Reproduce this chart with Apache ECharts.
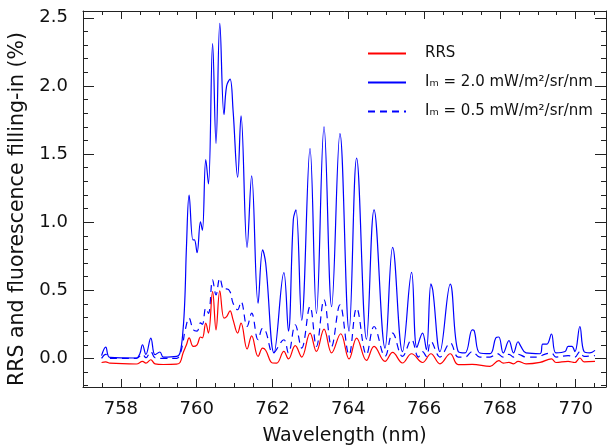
<!DOCTYPE html>
<html>
<head>
<meta charset="utf-8">
<script src="https://cdn.jsdelivr.net/npm/echarts/dist/echarts.min.js"></script>
<style>
html,body{margin:0;padding:0;background:#fff;}
#chart{width:607px;height:446px;}
</style>
</head>
<body>
<div id="chart"></div>
<script>
// ---------------- data ----------------
const seriesNames = ['RRS', 'Iₘ = 2.0 mW/m²/sr/nm', 'Iₘ = 0.5 mW/m²/sr/nm'];

const wlIm20 = [757.49, 757.60, 757.71, 758.41, 758.50, 758.57, 758.66, 758.79, 758.90, 759.03, 759.12, 759.47, 759.56, 759.64, 759.69, 759.73, 759.80, 759.90, 759.94, 760.01, 760.10, 760.15, 760.24, 760.31, 760.42, 760.51, 760.61, 760.72, 760.79, 760.88, 760.96, 761.08, 761.17, 761.33, 761.45, 761.62, 761.74, 761.82, 762.04, 762.30, 762.42, 762.55, 762.62, 762.77, 762.99, 763.16, 763.36, 763.56, 763.78, 764.02, 764.22, 764.48, 764.68, 764.97, 765.17, 765.43, 765.67, 765.81, 765.96, 766.06, 766.18, 766.23, 766.42, 766.69, 766.90, 767.08, 767.27, 767.32, 767.47, 767.74, 767.89, 767.97, 768.09, 768.24, 768.36, 768.48, 768.55, 768.69, 769.06, 769.13, 769.24, 769.36, 769.48, 769.72, 769.80, 769.90, 769.98, 770.11, 770.22, 770.37, 770.51];
const valIm20 = [0.02, 0.083, 0.007, 0.003, 0.034, 0.10, 0.03, 0.149, 0.027, 0.047, 0.01, 0.015, 0.04, 0.21, 0.454, 0.82, 1.198, 0.87, 0.87, 0.776, 1.003, 0.94, 1.46, 1.28, 2.31, 1.577, 2.46, 1.79, 2.0, 2.05, 1.82, 1.33, 1.78, 0.815, 1.34, 0.405, 0.796, 0.70, 0.04, 0.63, 0.20, 1.02, 1.09, 0.28, 1.54, 0.33, 1.70, 0.38, 1.65, 0.20, 1.47, 0.14, 1.09, 0.076, 0.815, 0.05, 0.632, 0.08, 0.186, 0.064, 0.547, 0.50, 0.05, 0.545, 0.05, 0.04, 0.21, 0.205, 0.04, 0.035, 0.149, 0.157, 0.04, 0.13, 0.04, 0.122, 0.09, 0.04, 0.034, 0.105, 0.105, 0.179, 0.04, 0.05, 0.088, 0.088, 0.05, 0.234, 0.05, 0.04, 0.059];

const wlIm05 = [757.49, 757.60, 757.71, 758.41, 758.57, 758.66, 758.79, 758.90, 759.12, 759.47, 759.56, 759.64, 759.69, 759.80, 759.91, 760.01, 760.10, 760.15, 760.24, 760.31, 760.42, 760.51, 760.61, 760.72, 760.79, 760.88, 760.96, 761.08, 761.17, 761.33, 761.45, 761.62, 761.74, 761.82, 762.02, 762.30, 762.42, 762.60, 762.77, 762.99, 763.16, 763.36, 763.56, 763.78, 764.02, 764.22, 764.48, 764.68, 764.97, 765.17, 765.43, 765.67, 765.85, 765.96, 766.06, 766.18, 766.42, 766.69, 766.90, 767.08, 767.27, 767.47, 767.74, 767.93, 768.09, 768.24, 768.36, 768.48, 768.69, 769.06, 769.13, 769.36, 769.48, 769.80, 769.98, 770.11, 770.22, 770.51];
const valIm05 = [0.0, 0.03, 0.0, 0.0, 0.03, 0.005, 0.05, 0.005, 0.0, 0.0, 0.03, 0.12, 0.2, 0.296, 0.21, 0.20, 0.26, 0.25, 0.369, 0.33, 0.576, 0.466, 0.589, 0.503, 0.51, 0.49, 0.405, 0.357, 0.417, 0.234, 0.332, 0.137, 0.222, 0.2, 0.04, 0.137, 0.04, 0.247, 0.076, 0.38, 0.088, 0.43, 0.088, 0.393, 0.027, 0.369, 0.027, 0.234, 0.015, 0.186, 0.015, 0.137, 0.01, 0.05, 0.015, 0.124, 0.01, 0.113, 0.01, 0.01, 0.05, 0.01, 0.01, 0.035, 0.01, 0.03, 0.01, 0.03, 0.01, 0.01, 0.025, 0.04, 0.01, 0.02, 0.01, 0.05, 0.015, 0.02];

const wlRRS = [757.49, 757.60, 757.71, 758.41, 758.57, 758.66, 758.79, 758.90, 759.12, 759.47, 759.56, 759.64, 759.73, 759.80, 759.91, 760.01, 760.10, 760.15, 760.24, 760.31, 760.42, 760.51, 760.61, 760.72, 760.79, 760.88, 760.96, 761.08, 761.17, 761.33, 761.45, 761.62, 761.74, 761.82, 762.00, 762.11, 762.30, 762.42, 762.60, 762.77, 762.99, 763.16, 763.36, 763.56, 763.80, 764.02, 764.22, 764.48, 764.68, 764.97, 765.17, 765.43, 765.67, 765.96, 766.18, 766.42, 766.69, 766.90, 767.27, 767.74, 767.97, 768.09, 768.24, 768.36, 768.48, 768.69, 769.06, 769.36, 769.48, 769.80, 769.98, 770.11, 770.22, 770.51];
const valRRS = [-0.03, -0.025, -0.035, -0.041, -0.022, -0.035, -0.01, -0.04, -0.045, -0.042, -0.03, 0.04, 0.1, 0.15, 0.088, 0.1, 0.157, 0.15, 0.259, 0.186, 0.49, 0.21, 0.496, 0.296, 0.307, 0.349, 0.283, 0.186, 0.259, 0.069, 0.166, 0.015, 0.076, 0.06, -0.034, -0.035, 0.051, -0.004, 0.093, 0.01, 0.186, 0.051, 0.215, 0.04, 0.181, -0.004, 0.149, -0.015, 0.088, -0.022, 0.044, -0.034, 0.034, -0.03, 0.034, -0.04, 0.034, -0.046, -0.044, -0.059, -0.017, -0.035, -0.029, -0.04, -0.022, -0.04, -0.029, -0.004, -0.03, -0.022, -0.03, 0.003, -0.025, -0.022];

const xMajorTicks = [758, 760, 762, 764, 766, 768, 770];
const xMinorTicks = [757, 757.5, 758.5, 759, 759.5, 760.5, 761, 761.5, 762.5, 763, 763.5, 764.5, 765, 765.5, 766.5, 767, 767.5, 768.5, 769, 769.5, 770.5];
const yMajorTicks = [0, 0.5, 1.0, 1.5, 2.0, 2.5];
const yMinorTicks = [-0.2, -0.1, 0.1, 0.2, 0.3, 0.4, 0.6, 0.7, 0.8, 0.9, 1.1, 1.2, 1.3, 1.4, 1.6, 1.7, 1.8, 1.9, 2.1, 2.2, 2.3, 2.4];

const X_MIN = 757, X_MAX = 770.8, Y_MIN = -0.21, Y_MAX = 2.55;

// ---------------- chart ----------------
const FONT = 'DejaVu Sans';
const AX = '#222';
const pairs = (w, v) => w.map((x, i) => [x, v[i]]);
const gridBox = { left: 83, right: 1, top: 11, bottom: 59, containLabel: false, outerBoundsMode: 'none' };

function xAx(gi, pos, ticks, len, main) {
  return {
    type: 'value', gridIndex: gi, position: pos, min: X_MIN, max: X_MAX,
    axisLine: { show: !!main, onZero: false, lineStyle: { color: AX, width: 1 } },
    axisTick: { show: true, inside: true, length: len, customValues: ticks, lineStyle: { color: AX, width: 1 } },
    axisLabel: (main && pos === 'bottom') ? {
      show: true, customValues: ticks, margin: 13, fontSize: 18, fontFamily: FONT, color: '#111',
      formatter: v => String(Math.round(v))
    } : { show: false },
    splitLine: { show: false },
    name: (main && pos === 'bottom') ? 'Wavelength (nm)' : '',
    nameLocation: 'middle', nameGap: 40,
    nameTextStyle: { fontSize: 19, fontFamily: FONT, color: '#111' }
  };
}
function yAx(gi, pos, ticks, len, main) {
  return {
    type: 'value', gridIndex: gi, position: pos, min: Y_MIN, max: Y_MAX,
    axisLine: { show: !!main, onZero: false, lineStyle: { color: AX, width: 1 } },
    axisTick: { show: true, inside: true, length: len, customValues: ticks, lineStyle: { color: AX, width: 1 } },
    axisLabel: (main && pos === 'left') ? {
      show: true, customValues: ticks, margin: 15, fontSize: 18, fontFamily: FONT, color: '#111',
      formatter: v => v.toFixed(1)
    } : { show: false },
    splitLine: { show: false },
    name: (main && pos === 'left') ? 'RRS and fluorescence filling-in (%)' : '',
    nameLocation: 'middle', nameGap: 52,
    nameTextStyle: { fontSize: 20.5, fontFamily: FONT, color: '#111', padding: [0, 20, 0, 0] }
  };
}

const chart = echarts.init(document.getElementById('chart'), null, { renderer: 'canvas' });
chart.setOption({
  animation: false,
  backgroundColor: '#fff',
  grid: [
    Object.assign({}, gridBox), Object.assign({}, gridBox),
    Object.assign({}, gridBox), Object.assign({}, gridBox)
  ],
  xAxis: [
    xAx(0, 'bottom', xMajorTicks, 8, true),
    xAx(1, 'top', xMajorTicks, 8, true),
    xAx(2, 'bottom', xMinorTicks, 4, false),
    xAx(3, 'top', xMinorTicks, 4, false)
  ],
  yAxis: [
    yAx(0, 'left', yMajorTicks, 11, true),
    yAx(1, 'right', yMajorTicks, 11, true),
    yAx(2, 'left', yMinorTicks, 5, false),
    yAx(3, 'right', yMinorTicks, 5, false)
  ],
  legend: {
    orient: 'vertical', left: 362, top: 41,
    itemWidth: 38, itemHeight: 14, itemGap: 14,
    data: seriesNames,
    itemStyle: { opacity: 0 },
    textStyle: { fontSize: 15, fontFamily: FONT, color: '#111', padding: [0, 0, 0, 14] }
  },
  series: [
    {
      name: seriesNames[1], type: 'line', xAxisIndex: 0, yAxisIndex: 0,
      data: pairs(wlIm20, valIm20), symbol: 'none', smooth: 0.4,
      lineStyle: { color: '#0000ff', width: 1.2 }, itemStyle: { color: '#0000ff' }, z: 2
    },
    {
      name: seriesNames[2], type: 'line', xAxisIndex: 0, yAxisIndex: 0,
      data: pairs(wlIm05, valIm05), symbol: 'none', smooth: 0.4,
      lineStyle: { color: '#0000ff', width: 1.2, type: [7, 5] }, itemStyle: { color: '#0000ff' }, z: 3
    },
    {
      name: seriesNames[0], type: 'line', xAxisIndex: 0, yAxisIndex: 0,
      data: pairs(wlRRS, valRRS), symbol: 'none', smooth: 0.4,
      lineStyle: { color: '#ff0000', width: 1.2 }, itemStyle: { color: '#ff0000' }, z: 4
    }
  ]
});
</script>
</body>
</html>
